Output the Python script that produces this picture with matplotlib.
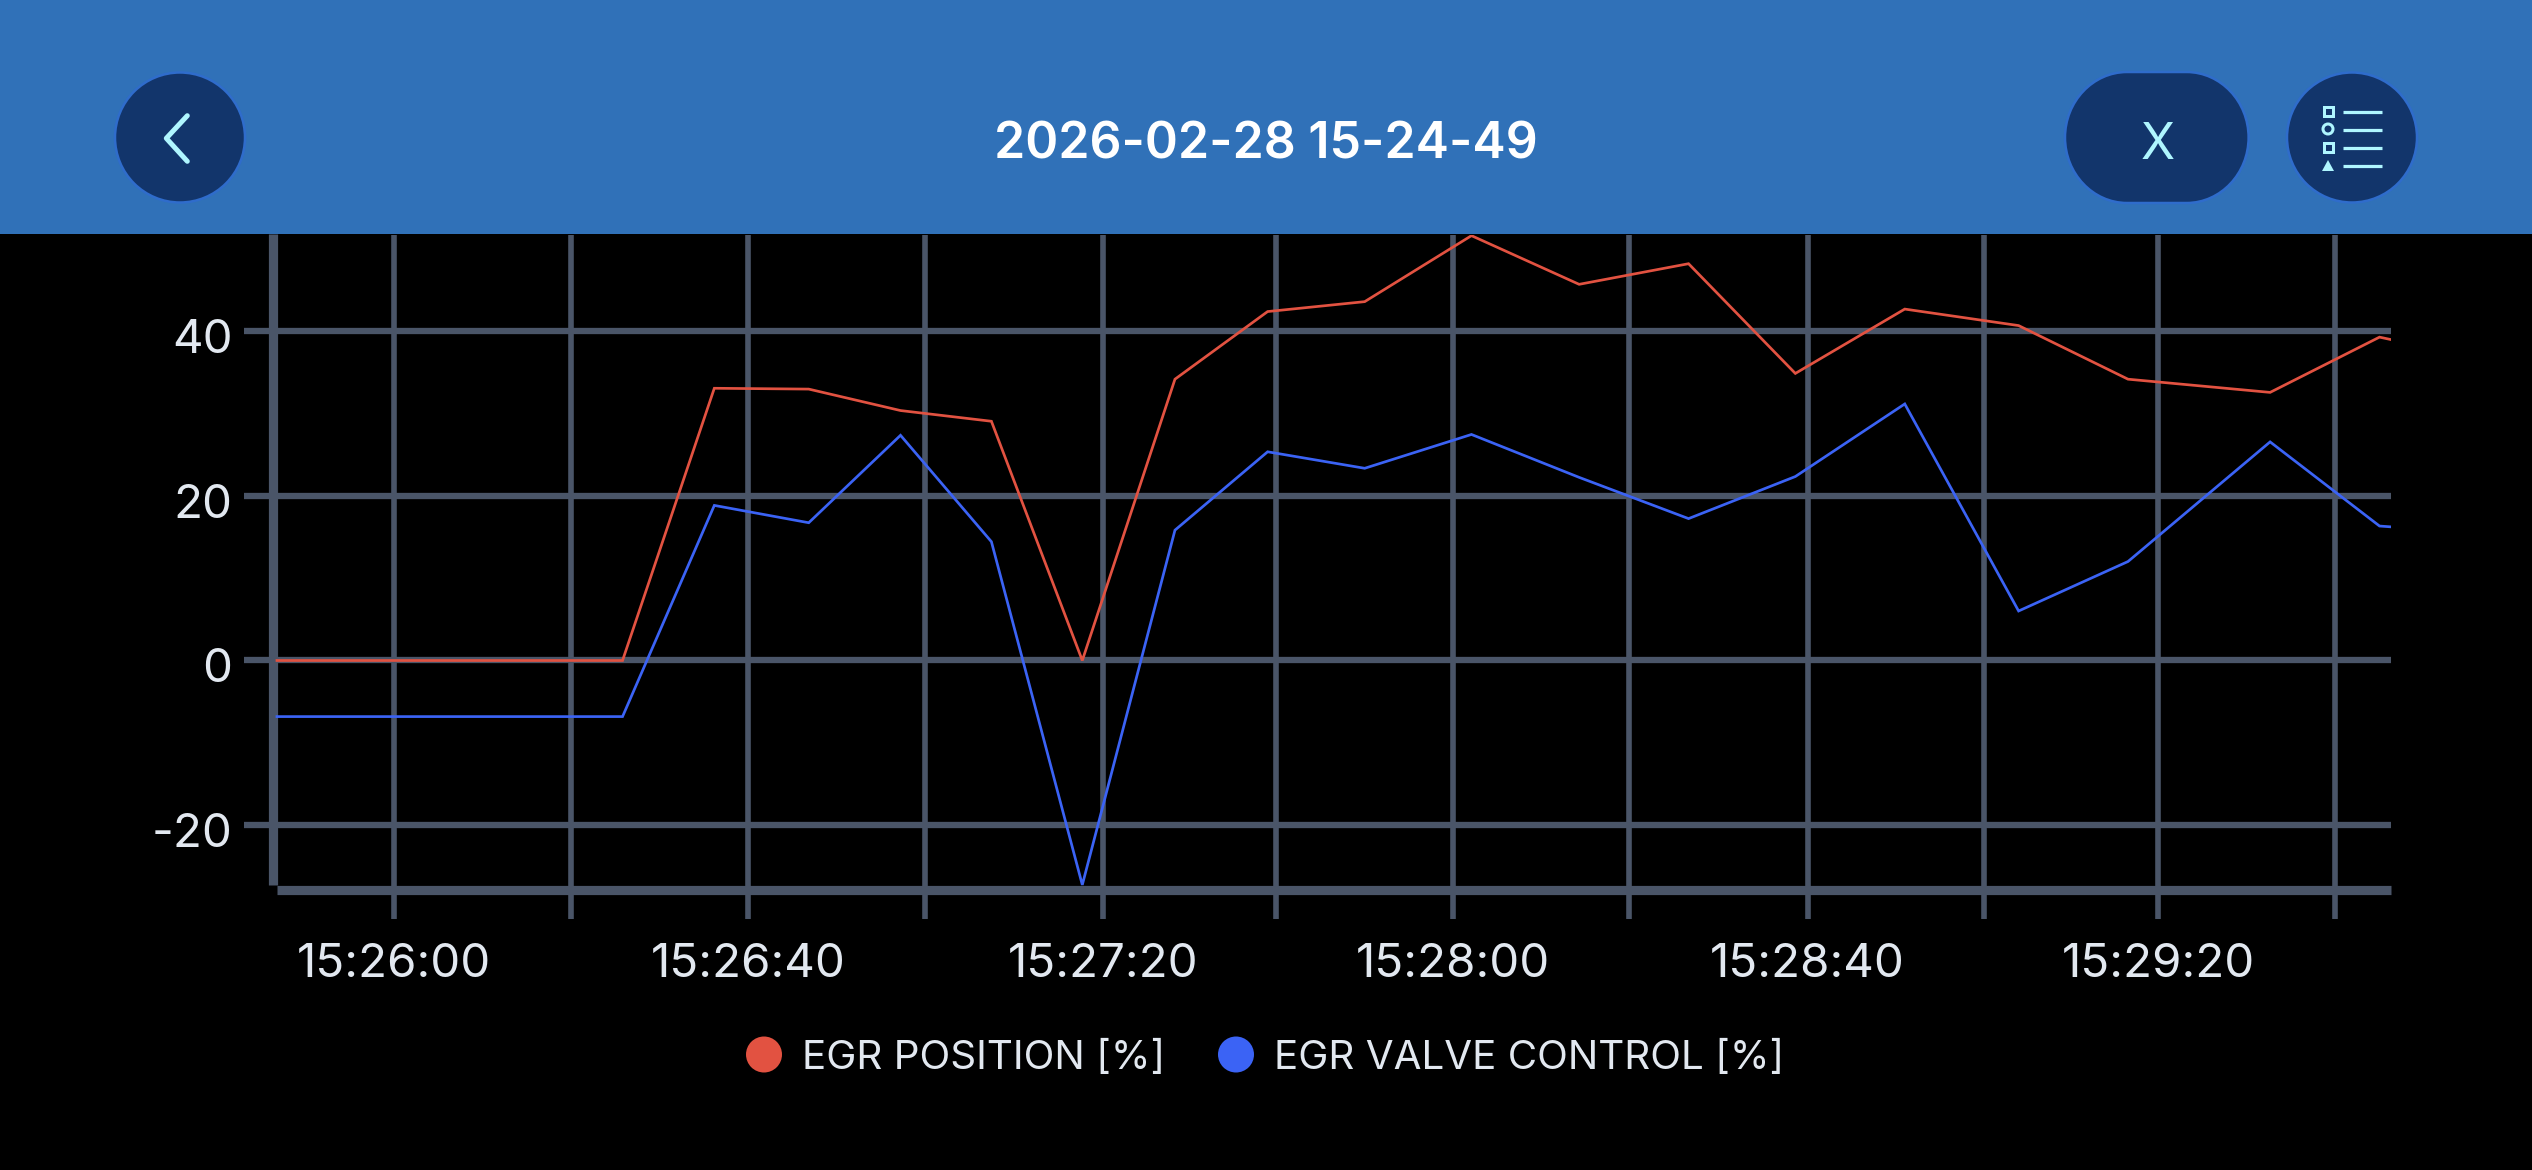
#!/usr/bin/env python3
"""EGR position / valve control log view, phone landscape screenshot."""
import matplotlib
matplotlib.use("Agg")
import matplotlib.pyplot as plt
from matplotlib.patches import Circle, PathPatch, Polygon, Rectangle
from matplotlib.path import Path
from matplotlib.transforms import ScaledTranslation

W, H = 2532, 1170
DPI = 100

TITLE = "2026-02-28 15-24-49"
SERIES_NAMES = ["EGR POSITION [%]", "EGR VALVE CONTROL [%]"]

# seconds relative to 15:26:00
seconds = [-13.26, 25.9, 36.3, 47.0, 57.4, 67.7, 78.0, 88.5, 99.0, 110.0, 122.1,
           134.3, 146.7, 158.8, 171.2, 184.1, 196.5, 212.6, 225.0, 226.3]
egr_position = [0.0, 0.0, 33.0, 32.9, 30.3, 29.0, 0.0, 34.1, 42.3, 43.5, 51.5,
                45.6, 48.1, 34.8, 42.6, 40.6, 34.1, 32.5, 39.2, 38.9]
egr_control = [-6.8, -6.8, 18.8, 16.7, 27.3, 14.4, -27.2, 15.8, 25.3, 23.3, 27.4,
               22.2, 17.2, 22.3, 31.1, 6.0, 12.0, 26.5, 16.3, 16.2]

x_ticks = [0, 20.03, 40.1, 60.2, 80.4, 99.9, 120, 140, 160.2, 180.2, 199.9, 220]
x_labels = ["15:26:00", "", "15:26:40", "", "15:27:20", "", "15:28:00", "",
            "15:28:40", "", "15:29:20", ""]
y_ticks = [-20, 0, 20, 40]
y_labels = ["-20", "0", "20", "40"]

BLACK = "#000000"
GRID = "#4A5568"
TEXT = "#E2E8F0"
RED = "#E25241"
BLUE = "#3B63F5"
HEADER = "#3071B8"
BTN = "#12356B"
BTN_EDGE = "#2F6CCB"
ICON = "#AFF6FF"


def px(v):
    return v * 72 / DPI


def pill(x0, y0, x1, y1, rx, ry):
    """Rounded box with elliptical corners, for the X button."""
    kx, ky = rx * 0.45, ry * 0.45
    verts = [(x0 + rx, y0), (x1 - rx, y0),
             (x1 - kx, y0), (x1, y0 + ky), (x1, y0 + ry),
             (x1, y1 - ry),
             (x1, y1 - ky), (x1 - kx, y1), (x1 - rx, y1),
             (x0 + rx, y1),
             (x0 + kx, y1), (x0, y1 - ky), (x0, y1 - ry),
             (x0, y0 + ry),
             (x0, y0 + ky), (x0 + kx, y0), (x0 + rx, y0),
             (x0 + rx, y0)]
    codes = [Path.MOVETO, Path.LINETO,
             Path.CURVE4, Path.CURVE4, Path.CURVE4,
             Path.LINETO,
             Path.CURVE4, Path.CURVE4, Path.CURVE4,
             Path.LINETO,
             Path.CURVE4, Path.CURVE4, Path.CURVE4,
             Path.LINETO,
             Path.CURVE4, Path.CURVE4, Path.CURVE4,
             Path.CLOSEPOLY]
    return Path(verts, codes)


plt.rcParams["font.family"] = ["Inter", "DejaVu Sans"]
fig = plt.figure(figsize=(W / DPI, H / DPI), dpi=DPI, facecolor=BLACK)

# chart
ax = fig.add_axes([273 / W, 1 - 889.5 / H, (2391 - 273) / W, (889 - 234) / H], facecolor=BLACK)
ax.set_xlim(-13.71, 226.3)
ax.set_ylim(-27.76, 51.64)
ax.plot(seconds, egr_position, color=RED, lw=px(2.7), solid_joinstyle="miter", zorder=3)
ax.plot(seconds, egr_control, color=BLUE, lw=px(2.7), solid_joinstyle="miter", zorder=3)

ax.set_xticks(x_ticks, x_labels)
ax.set_yticks(y_ticks, y_labels)
ax.grid(True, axis="x", color=GRID, lw=px(5.6), zorder=1)
ax.grid(True, axis="y", color=GRID, lw=px(6.3), zorder=1)
ax.set_axisbelow(True)
ax.tick_params(axis="x", length=px(28.7), width=px(5.6), color=GRID, labelcolor=TEXT,
               labelsize=px(47.5), pad=px(25))
ax.tick_params(axis="y", length=px(29), width=px(6.3), color=GRID, labelcolor=TEXT,
               labelsize=px(47.5), pad=px(11.5))
for lab in ax.get_yticklabels():
    lab.set_transform(lab.get_transform() + ScaledTranslation(0, -5 / DPI, fig.dpi_scale_trans))

for side in ("top", "right"):
    ax.spines[side].set_visible(False)
for side in ("left", "bottom"):
    ax.spines[side].set_color(GRID)
    ax.spines[side].set_linewidth(px(9.2))
    ax.spines[side].set_capstyle("butt")
ax.spines["bottom"].set_bounds(-13.26, 226.3)
ax.spines["left"].set_bounds(-27.2, 51.64)

# app chrome and legend, in pixel coordinates
ui = fig.add_axes([0, 0, 1, 1], facecolor="none")
ui.set_xlim(0, W)
ui.set_ylim(H, 0)
ui.axis("off")

ui.add_patch(Rectangle((0, 0), W, 234, fc=HEADER, ec="none"))
ui.text(1266, 145, TITLE, color="white", fontsize=px(50), fontweight=600, ha="center", va="center")

ui.add_patch(Circle((180, 137.5), 65, fc=BTN, ec=BTN_EDGE, lw=px(2.5)))
ui.plot([187.3, 166.3, 187.3], [115.7, 138.3, 161.3], color=ICON, lw=px(5),
        solid_capstyle="round", solid_joinstyle="round")

ui.add_patch(PathPatch(pill(2065, 72, 2248.6, 203, 62, 65.5), fc=BTN, ec=BTN_EDGE, lw=px(2.5)))
ui.text(2158, 145.5, "X", color=ICON, fontsize=px(50), ha="center", va="center")

ui.add_patch(Circle((2352, 137.5), 65, fc=BTN, ec=BTN_EDGE, lw=px(2.5)))
for y in (112.3, 130.3, 148.3, 166.3):
    ui.plot([2343, 2382], [y, y], color=ICON, lw=px(3.2), solid_capstyle="butt")
ui.add_patch(Rectangle((2323.5, 106.5), 9, 9, fc="none", ec=ICON, lw=px(3)))
ui.add_patch(Circle((2328, 129), 5, fc="none", ec=ICON, lw=px(3)))
ui.add_patch(Rectangle((2323.5, 142.5), 9, 9, fc="none", ec=ICON, lw=px(3)))
ui.add_patch(Polygon([[2322, 171], [2334, 171], [2328, 160]], fc=ICON, ec="none"))

for cx, tx, color, name in zip((764, 1236), (802, 1273.5), (RED, BLUE), SERIES_NAMES):
    ui.add_patch(Circle((cx, 1054.5), 18, fc=color, ec="none"))
    ui.text(tx, 1059, name, color=TEXT, fontsize=px(40.4), ha="left", va="center")

fig.savefig("out.png", dpi=DPI, facecolor=BLACK)
